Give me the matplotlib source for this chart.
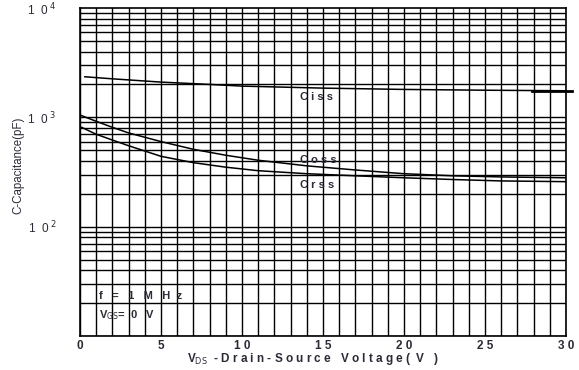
import matplotlib
matplotlib.use("Agg")
import matplotlib.pyplot as plt
import numpy as np

# ---- data ----
ciss_v = [0.3, 2, 5, 8, 10, 15, 20, 25, 30]
ciss_c = [2350, 2250, 2100, 2000, 1930, 1850, 1800, 1770, 1750]

coss_v = [0, 1, 2, 3, 5, 7, 9, 11, 14, 17, 20, 23, 26, 30]
coss_c = [1050, 920, 810, 720, 600, 510, 450, 405, 360, 330, 305, 292, 285, 280]

crss_v = [0.1, 1, 2, 3, 5, 7, 9, 11, 14, 17, 20, 23, 26, 30]
crss_c = [810, 700, 620, 550, 440, 385, 350, 325, 305, 292, 280, 270, 262, 258]

ciss_mark_v = [27.9, 30.4]
ciss_mark_c = [1750, 1750]

x_ticks = [0, 5, 10, 15, 20, 25, 30]
x_tick_labels = ["0", "5", "1 0", "1 5", "2 0", "2 5", "3 0"]
y_ticks = [100, 1000, 10000]
y_tick_labels = ["1  0$^{\\ 2}$", "1  0$^{\\ 3}$", "1  0$^{\\ 4}$"]

txt = "#2b2b38"
fam = ["Liberation Sans", "DejaVu Sans"]

fig = plt.figure(figsize=(5.79, 3.70), dpi=100)
ax = fig.add_axes([80/579, 1-336/370, (566-80)/579, (336-8)/370])
ax.set_yscale("log")
ax.set_xlim(0, 30)
ax.set_ylim(10, 10000)

# grid: vertical every 1 V, horizontal at log minor positions
for xv in range(0, 31):
    ax.axvline(xv, color="black", lw=1.0, zorder=1)
for dec in [10, 100, 1000]:
    for m in range(1, 10):
        ax.axhline(dec*m, color="black", lw=1.0, zorder=1)

ax.plot(ciss_v, ciss_c, color="black", lw=1.1, zorder=3)
ax.plot(coss_v, coss_c, color="black", lw=1.1, zorder=3)
ax.plot(crss_v, crss_c, color="black", lw=1.1, zorder=3)
ax.plot(ciss_mark_v, ciss_mark_c, color="black", lw=2.0, zorder=3, clip_on=False)

for s in ax.spines.values():
    s.set_color("black")
    s.set_linewidth(1.2)

ax.set_xticks(x_ticks)
ax.set_xticklabels(x_tick_labels, fontsize=8.5, fontweight="bold", color=txt, family=fam)
ax.set_yticks(y_ticks)
ax.set_yticklabels(y_tick_labels, fontsize=8.5, color=txt, family=fam)
ax.yaxis.set_minor_formatter(matplotlib.ticker.NullFormatter())
ax.tick_params(axis="both", which="both", length=0)
ax.tick_params(axis="x", pad=3)
ax.tick_params(axis="y", pad=17)

ax.set_ylabel("C-Capacitance(pF)", fontsize=8.3, color=txt, family=fam)
ax.yaxis.set_label_coords(-0.115, 0.52)
ax.set_xlabel("V$_{\\rm DS}$  - D r a i n - S o u r c e   V o l t a g e (  V   )",
              fontsize=8.5, fontweight="bold", color=txt, family=fam)
ax.xaxis.set_label_coords(0.48, -0.045)

ax.text(13.6, 1550, "C i s s", fontsize=8, fontweight="bold", color=txt, family=fam, va="center")
ax.text(13.6, 405, "C o s s", fontsize=8, fontweight="bold", color=txt, family=fam, va="center")
ax.text(13.6, 240, "C r s s", fontsize=8, fontweight="bold", color=txt, family=fam, va="center")
ax.text(1.2, 23, "f   =   1   M   H  z", fontsize=8, fontweight="bold", color=txt, family=fam, va="center")
ax.text(1.2, 15.5, "V$_{\\rm GS}$=  0   V", fontsize=8, fontweight="bold", color=txt, family=fam, va="center")

fig.savefig("out.png", dpi=100)
